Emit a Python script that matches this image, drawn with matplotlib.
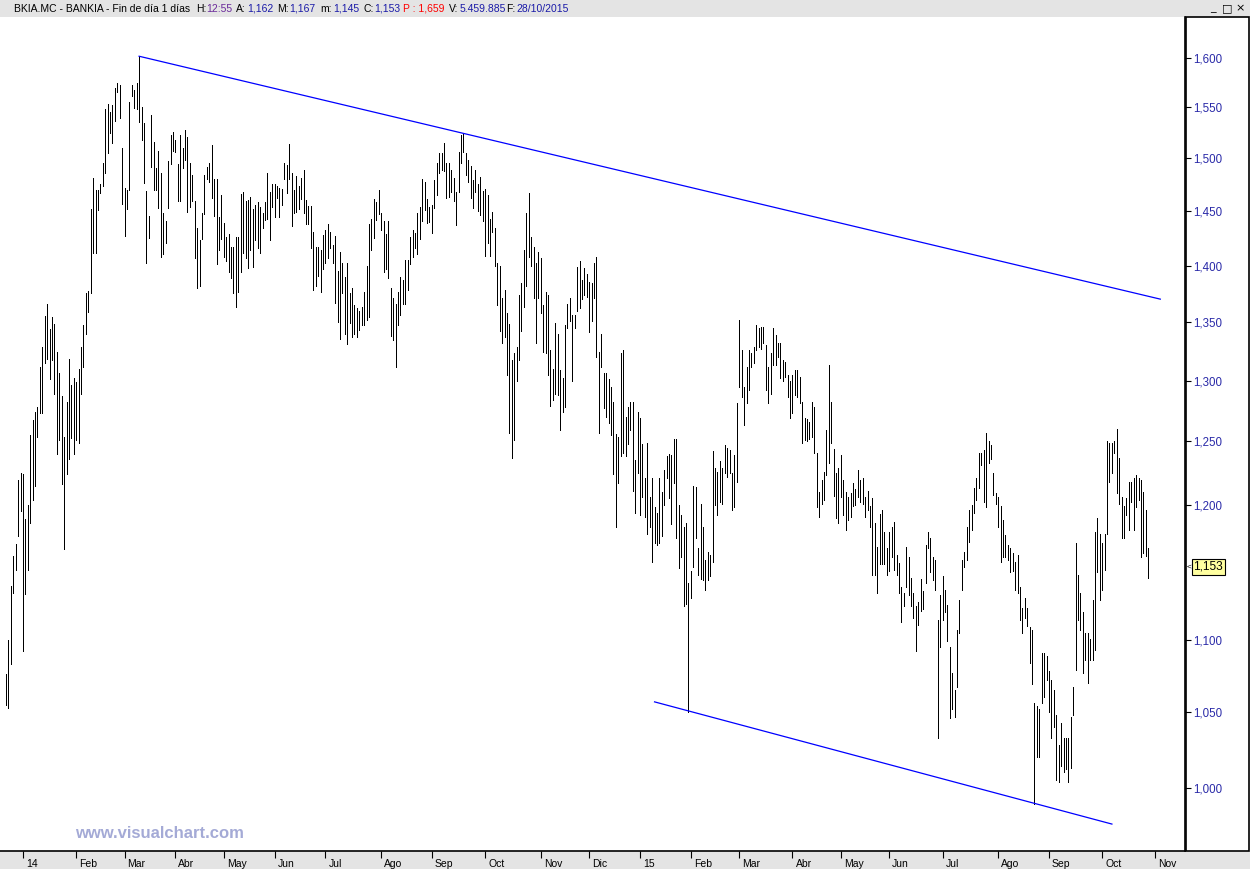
import numpy as np
import pandas as pd
import matplotlib
matplotlib.use("Agg")
import matplotlib.pyplot as plt
import matplotlib.transforms as mtransforms
from matplotlib.patches import Rectangle
from matplotlib.ticker import NullLocator, FixedLocator, FuncFormatter

plt.rcParams['font.family'] = ['Liberation Sans', 'DejaVu Sans']

# calendario de sesiones (Bolsa de Madrid)
inicio = "2013-12-19"
fin_calendario = "2015-11-30"
festivos = ["2013-12-25", "2013-12-26", "2014-01-01", "2014-04-18", "2014-04-21",
            "2014-05-01", "2014-12-25", "2014-12-26", "2015-01-01", "2015-04-03",
            "2015-04-06", "2015-05-01"]

# maximos y minimos diarios (un bloque por mes)
maximos = [
    # dic 13
    1.076, 1.100, 1.139, 1.161, 1.170, 1.219, 1.225,
    # ene 14
    1.224, 1.189, 1.200, 1.255, 1.267, 1.274, 1.278, 1.311, 1.328, 1.355, 1.366,
    1.344, 1.354, 1.348, 1.324, 1.306, 1.287, 1.254, 1.282, 1.318, 1.296, 1.302,
    # feb 14
    1.299, 1.310, 1.328, 1.347, 1.375, 1.377, 1.452, 1.481, 1.470, 1.470, 1.475,
    1.496, 1.548, 1.553, 1.545, 1.552, 1.570, 1.575, 1.573, 1.510,
    # mar 14
    1.472, 1.470, 1.555, 1.573, 1.568, 1.575, 1.602, 1.550, 1.535, 1.469, 1.445,
    1.543, 1.516, 1.491, 1.507, 1.486, 1.448, 1.441, 1.497, 1.523, 1.526,
    # abr 14
    1.518, 1.495, 1.523, 1.510, 1.528, 1.521, 1.496, 1.484, 1.459, 1.434, 1.423,
    1.448, 1.484, 1.492, 1.496, 1.513, 1.480, 1.480, 1.444, 1.465,
    # may 14
    1.439, 1.426, 1.429, 1.417, 1.417, 1.426, 1.426, 1.466, 1.468, 1.459, 1.460,
    1.463, 1.452, 1.456, 1.458, 1.454, 1.448, 1.458, 1.486, 1.468, 1.475,
    # jun 14
    1.475, 1.474, 1.472, 1.471, 1.496, 1.494, 1.514, 1.486, 1.470, 1.483, 1.474,
    1.481, 1.489, 1.460, 1.455, 1.455, 1.431, 1.417, 1.417, 1.414, 1.428,
    # jul 14
    1.432, 1.438, 1.431, 1.419, 1.427, 1.395, 1.412, 1.402, 1.390, 1.402, 1.375,
    1.380, 1.365, 1.362, 1.360, 1.363, 1.376, 1.400, 1.438, 1.443, 1.461, 1.458, 1.470,
    # ago 14
    1.448, 1.441, 1.429, 1.441, 1.380, 1.371, 1.366, 1.376, 1.390, 1.387, 1.405,
    1.405, 1.426, 1.432, 1.430, 1.448, 1.454, 1.480, 1.477, 1.461, 1.454,
    # sep 14
    1.456, 1.479, 1.496, 1.505, 1.505, 1.515, 1.496, 1.496, 1.489, 1.481, 1.468,
    1.506, 1.523, 1.524, 1.505, 1.498, 1.493, 1.479, 1.489, 1.475, 1.482, 1.469,
    # oct 14
    1.471, 1.465, 1.443, 1.449, 1.434, 1.402, 1.400, 1.371, 1.378, 1.358, 1.348,
    1.317, 1.323, 1.328, 1.374, 1.384, 1.414, 1.448, 1.467, 1.426, 1.417, 1.402, 1.412,
    # nov 14
    1.407, 1.365, 1.376, 1.374, 1.326, 1.310, 1.349, 1.340, 1.309, 1.302, 1.347,
    1.366, 1.371, 1.356, 1.356, 1.399, 1.404, 1.387, 1.398, 1.392,
    # dic 14
    1.385, 1.384, 1.402, 1.408, 1.324, 1.340, 1.306, 1.306, 1.301, 1.295, 1.282,
    1.256, 1.254, 1.323, 1.326, 1.270, 1.278, 1.282, 1.282, 1.235, 1.274,
    # ene 15
    1.269, 1.248, 1.221, 1.249, 1.206, 1.221, 1.198, 1.194, 1.221, 1.210, 1.227,
    1.238, 1.240, 1.239, 1.252, 1.252, 1.200, 1.192, 1.183, 1.186, 1.141,
    # feb 15
    1.150, 1.215, 1.214, 1.167, 1.201, 1.183, 1.158, 1.164, 1.162, 1.242, 1.229,
    1.226, 1.234, 1.229, 1.247, 1.245, 1.243, 1.225, 1.239, 1.281,
    # mar 15
    1.352, 1.326, 1.295, 1.311, 1.326, 1.323, 1.328, 1.347, 1.345, 1.346, 1.346,
    1.330, 1.311, 1.323, 1.345, 1.339, 1.332, 1.332, 1.317, 1.316, 1.305, 1.300,
    # abr 15
    1.305, 1.309, 1.309, 1.303, 1.282, 1.269, 1.268, 1.266, 1.282, 1.278, 1.241,
    1.210, 1.219, 1.226, 1.259, 1.313, 1.282, 1.244, 1.225, 1.229,
    # may 15
    1.239, 1.219, 1.210, 1.206, 1.209, 1.217, 1.212, 1.227, 1.219, 1.221, 1.206,
    1.211, 1.199, 1.205, 1.186, 1.168, 1.193, 1.196, 1.179, 1.167,
    # jun 15
    1.179, 1.183, 1.187, 1.162, 1.156, 1.138, 1.134, 1.168, 1.160, 1.145, 1.134,
    1.124, 1.127, 1.144, 1.135, 1.169, 1.179, 1.175, 1.160, 1.158, 1.114, 1.132,
    # jul 15
    1.146, 1.136, 1.125, 1.095, 1.077, 1.065, 1.107, 1.129, 1.158, 1.164, 1.183,
    1.196, 1.200, 1.213, 1.221, 1.241, 1.241, 1.243, 1.257, 1.250, 1.247, 1.225, 1.209,
    # ago 15
    1.206, 1.199, 1.188, 1.177, 1.169, 1.167, 1.163, 1.157, 1.162, 1.138, 1.123,
    1.130, 1.123, 1.109, 1.107, 1.056, 1.054, 1.052, 1.091, 1.091, 1.089,
    # sep 15
    1.078, 1.072, 1.065, 1.048, 1.028, 1.043, 1.033, 1.033, 1.033, 1.047, 1.067,
    1.171, 1.147, 1.134, 1.120, 1.105, 1.105, 1.101, 1.129, 1.179, 1.190, 1.178,
    # oct 15
    1.171, 1.178, 1.250, 1.249, 1.249, 1.250, 1.260, 1.237, 1.206, 1.199, 1.205,
    1.218, 1.218, 1.221, 1.223, 1.221, 1.219, 1.210, 1.196, 1.167,
]

minimos = [
    # dic 13
    1.055, 1.053, 1.083, 1.134, 1.151, 1.176, 1.195,
    # ene 14
    1.092, 1.133, 1.151, 1.186, 1.204, 1.215, 1.254, 1.273, 1.273, 1.315, 1.318,
    1.301, 1.317, 1.289, 1.240, 1.251, 1.216, 1.166, 1.224, 1.236, 1.253, 1.240,
    # feb 14
    1.251, 1.249, 1.289, 1.311, 1.340, 1.359, 1.375, 1.411, 1.411, 1.451, 1.467,
    1.474, 1.486, 1.505, 1.525, 1.515, 1.537, 1.566, 1.540, 1.457,
    # mar 14
    1.427, 1.452, 1.470, 1.561, 1.549, 1.548, 1.536, 1.518, 1.476, 1.402, 1.425,
    1.492, 1.470, 1.470, 1.453, 1.408, 1.410, 1.420, 1.453, 1.495, 1.507,
    # abr 14
    1.506, 1.459, 1.459, 1.491, 1.498, 1.449, 1.454, 1.459, 1.407, 1.380, 1.382,
    1.424, 1.447, 1.480, 1.477, 1.462, 1.445, 1.401, 1.414, 1.424,
    # may 14
    1.408, 1.404, 1.394, 1.389, 1.375, 1.363, 1.376, 1.394, 1.411, 1.407, 1.398,
    1.414, 1.399, 1.423, 1.416, 1.411, 1.434, 1.442, 1.443, 1.423, 1.454,
    # jun 14
    1.444, 1.462, 1.444, 1.456, 1.480, 1.467, 1.480, 1.436, 1.448, 1.449, 1.452,
    1.461, 1.448, 1.438, 1.438, 1.416, 1.378, 1.382, 1.391, 1.376, 1.397,
    # jul 14
    1.402, 1.407, 1.416, 1.402, 1.367, 1.350, 1.335, 1.375, 1.340, 1.331, 1.349,
    1.337, 1.340, 1.337, 1.343, 1.347, 1.347, 1.352, 1.354, 1.414, 1.425, 1.442, 1.447,
    # ago 14
    1.432, 1.394, 1.397, 1.389, 1.338, 1.334, 1.311, 1.347, 1.356, 1.366, 1.366,
    1.378, 1.401, 1.408, 1.416, 1.410, 1.424, 1.441, 1.451, 1.439, 1.440,
    # sep 14
    1.430, 1.453, 1.465, 1.486, 1.489, 1.488, 1.462, 1.463, 1.468, 1.459, 1.437,
    1.468, 1.496, 1.506, 1.484, 1.477, 1.462, 1.453, 1.468, 1.450, 1.446, 1.441,
    # oct 14
    1.409, 1.420, 1.409, 1.431, 1.400, 1.365, 1.342, 1.332, 1.337, 1.305, 1.257,
    1.237, 1.251, 1.300, 1.317, 1.342, 1.363, 1.382, 1.408, 1.400, 1.371, 1.332, 1.371,
    # nov 14
    1.358, 1.324, 1.323, 1.305, 1.279, 1.284, 1.289, 1.288, 1.259, 1.274, 1.278,
    1.345, 1.351, 1.300, 1.345, 1.360, 1.362, 1.370, 1.374, 1.372,
    # dic 14
    1.341, 1.351, 1.371, 1.320, 1.257, 1.311, 1.277, 1.270, 1.265, 1.255, 1.224,
    1.183, 1.217, 1.238, 1.241, 1.238, 1.248, 1.259, 1.211, 1.194, 1.225,
    # ene 15
    1.192, 1.206, 1.191, 1.178, 1.183, 1.157, 1.171, 1.169, 1.171, 1.176, 1.200,
    1.221, 1.205, 1.185, 1.217, 1.175, 1.152, 1.160, 1.124, 1.126, 1.050,
    # feb 15
    1.130, 1.153, 1.175, 1.147, 1.144, 1.143, 1.136, 1.143, 1.146, 1.157, 1.200,
    1.192, 1.202, 1.201, 1.225, 1.222, 1.225, 1.196, 1.198, 1.218,
    # mar 15
    1.295, 1.286, 1.263, 1.281, 1.292, 1.311, 1.315, 1.326, 1.328, 1.327, 1.332,
    1.292, 1.281, 1.289, 1.313, 1.313, 1.320, 1.302, 1.300, 1.303, 1.286, 1.269,
    # abr 15
    1.273, 1.288, 1.286, 1.281, 1.249, 1.251, 1.250, 1.252, 1.254, 1.241, 1.198,
    1.191, 1.201, 1.204, 1.223, 1.233, 1.249, 1.207, 1.190, 1.186,
    # may 15
    1.206, 1.192, 1.181, 1.188, 1.191, 1.199, 1.200, 1.206, 1.202, 1.201, 1.191,
    1.196, 1.183, 1.147, 1.147, 1.134, 1.155, 1.155, 1.155, 1.147,
    # jun 15
    1.150, 1.160, 1.151, 1.147, 1.134, 1.113, 1.124, 1.138, 1.132, 1.124, 1.116,
    1.092, 1.111, 1.121, 1.122, 1.141, 1.167, 1.149, 1.143, 1.136, 1.033, 1.095,
    # jul 15
    1.114, 1.120, 1.099, 1.046, 1.052, 1.047, 1.067, 1.105, 1.136, 1.153, 1.158,
    1.172, 1.181, 1.194, 1.204, 1.213, 1.231, 1.202, 1.198, 1.233, 1.236, 1.208, 1.201,
    # ago 15
    1.183, 1.157, 1.160, 1.160, 1.158, 1.149, 1.150, 1.136, 1.134, 1.114, 1.105,
    1.116, 1.110, 1.084, 1.069, 0.990, 1.020, 1.020, 1.056, 1.060, 1.072,
    # sep 15
    1.050, 1.033, 1.040, 1.005, 1.004, 1.014, 1.010, 1.012, 1.004, 1.013, 1.048,
    1.079, 1.114, 1.107, 1.077, 1.086, 1.070, 1.086, 1.086, 1.093, 1.149, 1.129,
    # oct 15
    1.136, 1.151, 1.178, 1.218, 1.225, 1.241, 1.209, 1.201, 1.175, 1.175, 1.192,
    1.181, 1.202, 1.181, 1.198, 1.204, 1.160, 1.163, 1.161, 1.145,
]

ultimo_cierre = 1.153

# directrices (fecha, precio)
directriz_sup = [("2014-03-11", 1.602), ("2015-11-04", 1.370)]
directriz_inf = [("2015-01-12", 1.057), ("2015-10-07", 0.977)]

etiquetas_meses = ["14", "Feb", "Mar", "Abr", "May", "Jun", "Jul", "Ago", "Sep", "Oct",
                   "Nov", "Dic", "15", "Feb", "Mar", "Abr", "May", "Jun", "Jul", "Ago",
                   "Sep", "Oct", "Nov"]
niveles = [1.00, 1.05, 1.10, 1.20, 1.25, 1.30, 1.35, 1.40, 1.45, 1.50, 1.55, 1.60]

cabecera = [
    ("BKIA.MC - BANKIA - Fin de día 1 días", "#000000", 13.8),
    ("H:", "#000000", 195.7), ("12:55", "#6a2a9a", 206.5),
    ("A:", "#000000", 236.0), ("1,162", "#1a1aa8", 247.0),
    ("M:", "#000000", 276.7), ("1,167", "#1a1aa8", 289.4),
    ("m:", "#000000", 320.0), ("1,145", "#1a1aa8", 333.0),
    ("C:", "#000000", 363.0), ("1,153", "#1a1aa8", 374.0),
    ("P : 1,659", "#ff0000", 403.0),
    ("V:", "#000000", 448.6), ("5.459.885", "#1a1aa8", 459.3),
    ("F:", "#000000", 506.0), ("28/10/2015", "#1a1aa8", 516.6),
]

# --- posiciones por sesion ---
cal = pd.bdate_range(inicio, fin_calendario, freq="C", holidays=festivos)
pos = {d: i for i, d in enumerate(cal)}
n = min(len(maximos), len(minimos))
x = np.arange(n)

mes = cal.to_period("M")
primeros = [i for i in range(1, len(cal)) if mes[i] != mes[i - 1]]
primeros = primeros[:len(etiquetas_meses)]

W, H = 1250, 869
fig = plt.figure(figsize=(W / 100, H / 100), dpi=100)
fig.patch.set_facecolor("white")

ax = fig.add_axes([0, 18 / H, 1185 / W, (851 - 17) / H])
ax.set_yscale("log")
ax.vlines(x, minimos[:n], maximos[:n], colors="black", linewidth=0.72, antialiaseds=False)

for tramo in (directriz_sup, directriz_inf):
    xs = [pos[pd.Timestamp(d)] for d, _ in tramo]
    ys = [p for _, p in tramo]
    ax.plot(xs, ys, color="#0000ff", linewidth=0.9)

ax.set_xlim(-2.48, 487.2)
ax.set_ylim(0.9602, 1.643)

for s in ("left", "top"):
    ax.spines[s].set_visible(False)
ax.spines["right"].set_linewidth(1.2)
ax.spines["bottom"].set_linewidth(1.2)

ax.yaxis.set_ticks_position("right")
ax.yaxis.set_major_locator(FixedLocator(niveles))
ax.yaxis.set_minor_locator(NullLocator())
ax.yaxis.set_major_formatter(FuncFormatter(lambda v, _: f"{v:.3f}".replace(".", ",")))
ax.tick_params(axis="y", direction="out", length=4, width=0.8, pad=2,
               labelsize=8.3, labelcolor="#2a2aa8")

ax.set_xticks(primeros, etiquetas_meses[:len(primeros)])
ax.xaxis.set_minor_locator(NullLocator())
ax.tick_params(axis="x", direction="out", length=5, width=0.8, pad=0.5, labelsize=7.5)
desplaza = mtransforms.ScaledTranslation(3 / 100, 0, fig.dpi_scale_trans)
for lab in ax.get_xticklabels():
    lab.set_horizontalalignment("left")
    lab.set_transform(lab.get_transform() + desplaza)

# etiqueta del ultimo precio
mezcla = mtransforms.blended_transform_factory(ax.transAxes, ax.transData)
ax.text(1.0072, ultimo_cierre, f"{ultimo_cierre:.3f}".replace(".", ","), transform=mezcla,
        ha="left", va="center", fontsize=8.6, color="black", clip_on=False,
        bbox=dict(boxstyle="square,pad=0.14", facecolor="#ffffa0", edgecolor="black", linewidth=0.8))
ax.text(1.0012, ultimo_cierre, "<", transform=mezcla, ha="left", va="center",
        fontsize=6, color="black", clip_on=False)

# bandas grises y marco del eje derecho
fig.add_artist(Rectangle((0, 0), 1, 18 / H, transform=fig.transFigure,
                         facecolor="#e4e4e4", edgecolor="none", zorder=-1))
fig.add_artist(Rectangle((0, 1 - 17 / H), 1, 17 / H, transform=fig.transFigure,
                         facecolor="#e4e4e4", edgecolor="none", zorder=-1))
fig.add_artist(Rectangle((1186 / W, 18 / H), (1249 - 1186) / W, (851 - 17) / H,
                         transform=fig.transFigure, fill=False, edgecolor="black",
                         linewidth=1.2))

# cabecera
for texto, color, px in cabecera:
    fig.text(px / W, 1 - 8.5 / H, texto, color=color, fontsize=7.5, ha="left", va="center")

for simbolo, px in (("_", 1213), ("□", 1227), ("×", 1240)):
    fig.text(px / W, 1 - 8 / H, simbolo, fontsize=8, ha="center", va="center",
             family=["DejaVu Sans"])

fig.text(75 / W, 1 - 834 / H, "www.visualchart.com", fontsize=12, fontweight="bold",
         color="#a4aad6", ha="left", va="center")

fig.savefig("out.png", dpi=100)
